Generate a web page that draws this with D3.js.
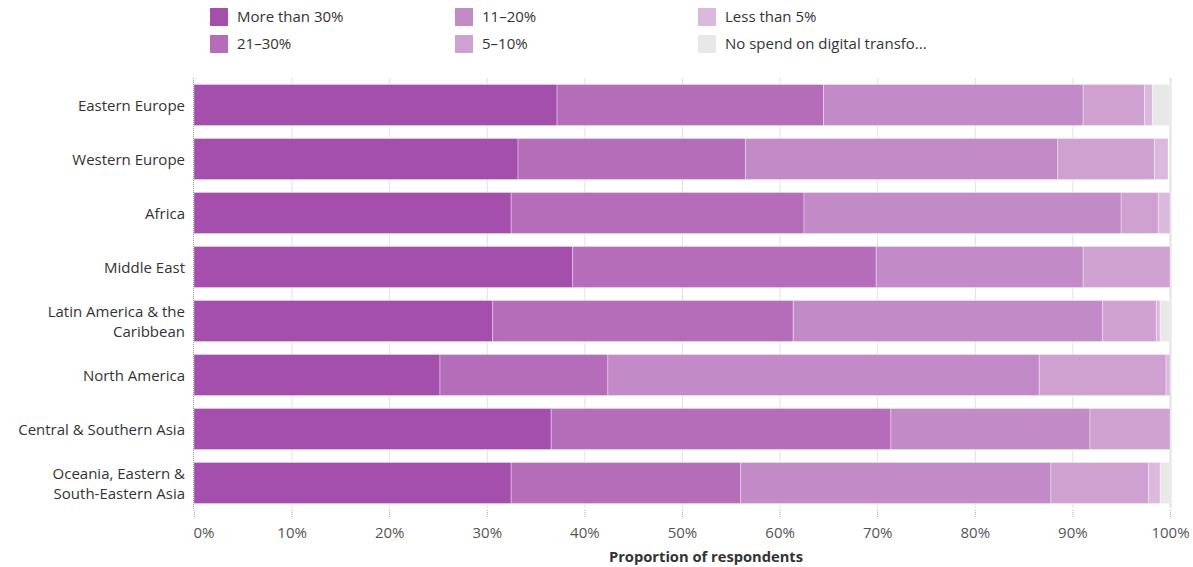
<!DOCTYPE html>
<html>
<head>
<meta charset="utf-8">
<script src="https://cdn.jsdelivr.net/npm/d3@7"></script>
<style>
  body { margin: 0; background: #fff; }
  svg text { font-family: "Open Sans", "Noto Sans", sans-serif; }
</style>
</head>
<body>
<svg id="chart" width="1193" height="567"></svg>
<script>
// data
var regions = ['Eastern Europe', 'Western Europe', 'Africa', 'Middle East',
  'Latin America & the Caribbean', 'North America', 'Central & Southern Asia',
  'Oceania, Eastern & South-Eastern Asia'];
var regionLines = [['Eastern Europe'], ['Western Europe'], ['Africa'], ['Middle East'],
  ['Latin America & the', 'Caribbean'], ['North America'], ['Central & Southern Asia'],
  ['Oceania, Eastern &', 'South-Eastern Asia']];
var categories = ['More than 30%', '21\u201330%', '11\u201320%', '5\u201310%', 'Less than 5%', 'No spend on digital transfo...'];
var over30   = [37.2, 33.2, 32.5, 38.8, 30.6, 25.2, 36.6, 32.5];
var pct21_30 = [27.3, 23.3, 30.0, 31.1, 30.8, 17.2, 34.8, 23.5];
var pct11_20 = [26.6, 32.0, 32.5, 21.2, 31.7, 44.2, 20.4, 31.8];
var pct5_10  = [6.3, 9.9, 3.8, 8.9, 5.5, 13.0, 8.2, 10.0];
var under5   = [0.8, 1.4, 1.2, 0, 0.4, 0.4, 0, 1.2];
var noSpend  = [1.8, 0, 0, 0, 1.0, 0, 0, 1.0];
var colors = ['#a34fab', '#b56dba', '#c28ac6', '#cea1d1', '#dab9dd', '#e8e8e8'];
var ticks = [0, 10, 20, 30, 40, 50, 60, 70, 80, 90, 100];

var series = [over30, pct21_30, pct11_20, pct5_10, under5, noSpend];
var keys = d3.range(series.length);
var rows = regions.map(function(r, i){
  var o = { region: r };
  keys.forEach(function(k){ o[k] = series[k][i]; });
  return o;
});
var stacked = d3.stack().keys(keys)(rows);

var svg = d3.select('#chart');
var x = d3.scaleLinear().domain([0, 100]).range([194, 1170]);
var y = d3.scaleBand().domain(regions).range([78, 510]).paddingInner(0.24).paddingOuter(0.12);

// gridlines
svg.append('g').selectAll('line').data(ticks).join('line')
  .attr('x1', function(d){ return x(d) + 0.5; }).attr('x2', function(d){ return x(d) + 0.5; })
  .attr('y1', 78).attr('y2', 508)
  .attr('stroke', function(d){ return d === 0 ? 'none' : '#e2e2e2'; })
  .attr('stroke-width', function(d){ return d === 100 ? 2 : 1; });

// bars
svg.append('g').selectAll('g').data(stacked).join('g')
  .attr('fill', function(d){ return colors[d.key]; })
  .selectAll('rect').data(function(d){ return d; }).join('rect')
  .attr('x', function(d){ return x(d[0]); })
  .attr('width', function(d){ return Math.max(0, x(d[1]) - x(d[0])); })
  .attr('y', function(d){ return y(d.data.region); })
  .attr('height', y.bandwidth())
  .attr('stroke', 'rgba(255,255,255,0.35)')
  .attr('stroke-width', 1);

// left axis dotted line
svg.append('line').attr('x1', 193.5).attr('x2', 193.5).attr('y1', 78).attr('y2', 510)
  .attr('stroke', '#999').attr('stroke-dasharray', '1,1');

// x axis
var xAxis = svg.append('g').attr('transform', 'translate(0,510)')
  .call(d3.axisBottom(x).tickValues(ticks).tickFormat(function(d){ return d + '%'; }).tickSize(8).tickPadding(9));
xAxis.select('.domain').remove();
xAxis.selectAll('.tick line').attr('stroke', '#aaa').attr('stroke-dasharray', '1,1');
xAxis.selectAll('.tick text').attr('fill', '#555').attr('font-size', 15)
  .attr('font-family', '"Open Sans", sans-serif')
  .attr('text-anchor', function(d){ return d === 0 ? 'start' : 'middle'; })
  .attr('dx', function(d){ return d === 0 ? -1 : 0; });

svg.append('text').attr('x', 706).attr('y', 562).attr('text-anchor', 'middle')
  .attr('font-size', 14.7).attr('font-weight', 'bold').attr('fill', '#333')
  .text('Proportion of respondents');

// y labels
var yl = svg.append('g').selectAll('text').data(regions).join('text')
  .attr('text-anchor', 'end').attr('font-size', 15).attr('fill', '#333')
  .attr('y', function(d){ return y(d) + y.bandwidth() / 2 + 1; });
yl.each(function(d, i){
  var lines = regionLines[i];
  var t = d3.select(this);
  lines.forEach(function(l, j){
    t.append('tspan').attr('x', 185)
      .attr('dy', j === 0 ? (lines.length === 1 ? '0.35em' : '-0.32em') : '1.35em')
      .text(l);
  });
});

// legend
var legX = [210, 455, 698];
var leg = svg.append('g').selectAll('g').data(categories).join('g')
  .attr('transform', function(d, i){
    return 'translate(' + legX[Math.floor(i / 2)] + ',' + (8 + (i % 2) * 27) + ')';
  });
leg.append('rect').attr('width', 18).attr('height', 18)
  .attr('fill', function(d, i){ return colors[i]; });
leg.append('text').attr('x', 27).attr('y', 9).attr('dy', '0.35em')
  .attr('font-size', 15).attr('fill', '#333')
  .text(function(d){ return d; });
</script>
</body>
</html>
